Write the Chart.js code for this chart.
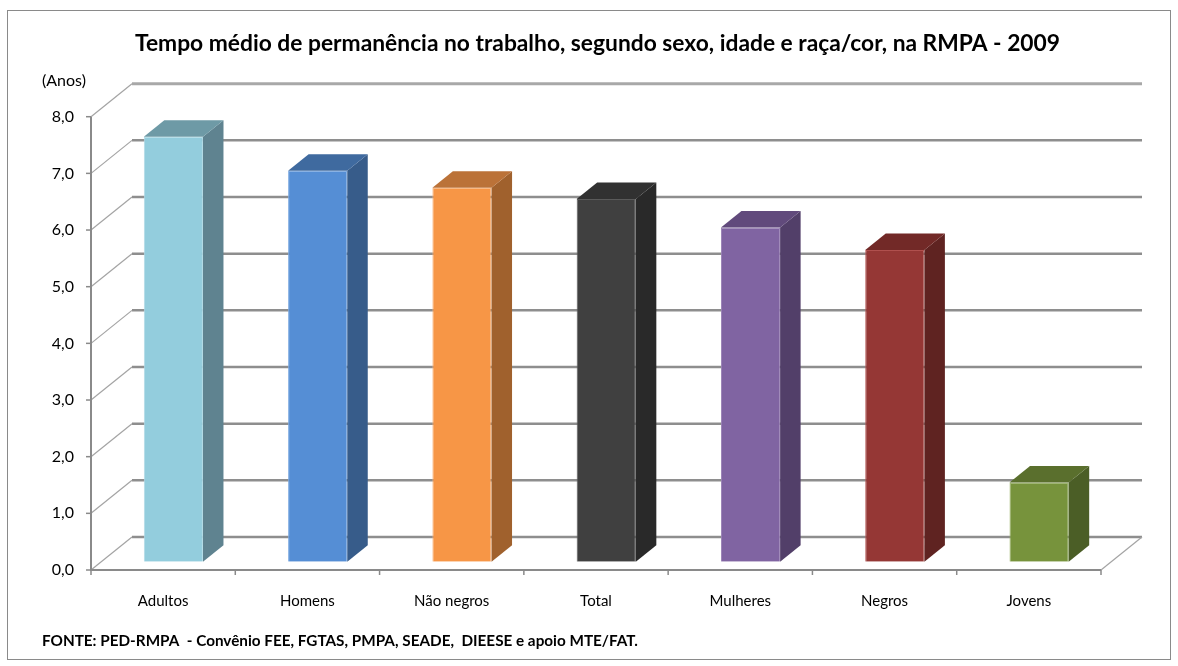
<!DOCTYPE html>
<html>
<head>
<meta charset="utf-8">
<script src="https://cdn.jsdelivr.net/npm/chart.js@4.4.1/dist/chart.umd.min.js"></script>
<style>
  html, body { margin: 0; padding: 0; background: #fff; }
  #wrap { width: 1178px; height: 666px; }
</style>
</head>
<body>
<div id="wrap"><canvas id="chart" width="1178" height="666"></canvas></div>
<script>
/* ================================
   Data
================================ */
const categories = ["Adultos", "Homens", "Não negros", "Total", "Mulheres", "Negros", "Jovens"];
const anos = [7.5, 6.9, 6.6, 6.4, 5.9, 5.5, 1.4];
const yTicks = [0, 1, 2, 3, 4, 5, 6, 7, 8];

const frontColors = ["#93cddd", "#558ed5", "#f79646", "#404040", "#8064a2", "#953735", "#77933c"];
const sideColors  = ["#5f8390", "#375c8a", "#a0612d", "#292929", "#523f69", "#5f2321", "#4b5e26"];
const topColors   = ["#6e9aa6", "#3f6a9f", "#bb7238", "#313131", "#614a7c", "#722927", "#5a6f2d"];
const edgeColors  = ["#b0dbe7", "#7ba8e0", "#f9b27a", "#5a5a5a", "#9a83b6", "#b0504e", "#93ad5c"];

const titleText = "Tempo médio de permanência no trabalho, segundo sexo, idade e raça/cor, na RMPA - 2009";
const unitText = "(Anos)";
const sourceText = "FONTE: PED-RMPA  - Convênio FEE, FGTAS, PMPA, SEADE,  DIEESE e apoio MTE/FAT.";

/* ================================
   3D look (Excel style walls)
================================ */
const DEPTH_X = 41;
const DEPTH_Y = 33;
const BAR_FRONT = 0.25;   // bars use the middle half of the depth
const BAR_DEPTH = 0.5;
const FONT = "Lato, 'Open Sans', 'DejaVu Sans', sans-serif";

// draw a line of text fitted to a given width (Calibri metrics differ from Lato)
function fittedText(ctx, text, font, x, y, width, align) {
  ctx.save();
  ctx.font = font;
  const sx = width / ctx.measureText(text).width;
  ctx.translate(x, y);
  ctx.scale(sx, 1);
  ctx.textAlign = align;
  ctx.fillText(text, 0, 0);
  ctx.restore();
}

function line(ctx, x1, y1, x2, y2) {
  ctx.beginPath();
  ctx.moveTo(x1, y1);
  ctx.lineTo(x2, y2);
  ctx.stroke();
}

const excel3d = {
  id: "excel3d",

  beforeDraw(chart) {
    const ctx = chart.ctx;
    ctx.save();
    ctx.fillStyle = "#fff";
    ctx.fillRect(0, 0, chart.width, chart.height);

    // outer frame
    ctx.strokeStyle = "#8a8a8a";
    ctx.lineWidth = 1;
    ctx.strokeRect(7.5, 10.5, 1163, 649);

    ctx.fillStyle = "#000";
    ctx.textBaseline = "alphabetic";

    fittedText(ctx, titleText, `bold 23px ${FONT}`, 597.5, 51, 925, "center");

    ctx.textAlign = "left";
    ctx.font = `16px ${FONT}`;
    ctx.fillText(unitText, 42, 86);

    fittedText(ctx, sourceText, `bold 14.5px ${FONT}`, 42, 646, 596, "left");
    ctx.restore();
  },

  beforeDatasetsDraw(chart) {
    const ctx = chart.ctx;
    const { left, right, bottom } = chart.chartArea;
    const y = chart.scales.y;

    ctx.save();
    ctx.lineCap = "butt";

    // back wall gridlines
    const topTick = yTicks[yTicks.length - 1];
    yTicks.forEach(v => {
      const py = y.getPixelForValue(v) - DEPTH_Y;
      ctx.strokeStyle = v === topTick ? "#a8a8a8" : "#8e8e8e";
      ctx.lineWidth = v === topTick ? 3 : 2.5;
      line(ctx, left + DEPTH_X, py, right + DEPTH_X, py);
    });

    // side wall diagonals
    ctx.strokeStyle = "#a4a4a4";
    ctx.lineWidth = 1.2;
    yTicks.forEach(v => {
      const py = y.getPixelForValue(v);
      line(ctx, left, py, left + DEPTH_X, py - DEPTH_Y);
    });
    // right floor edge
    line(ctx, right, bottom, right + DEPTH_X, bottom - DEPTH_Y);

    // front axes
    ctx.strokeStyle = "#8a8a8a";
    ctx.lineWidth = 2;
    line(ctx, left, y.getPixelForValue(topTick), left, bottom + 1);
    line(ctx, left - 1, bottom, right, bottom);

    ctx.lineWidth = 1.5;
    yTicks.forEach(v => {
      const py = y.getPixelForValue(v);
      line(ctx, left - 5, py, left, py);
    });
    const step = (right - left) / categories.length;
    for (let i = 0; i <= categories.length; i++) {
      const px = left + step * i;
      line(ctx, px, bottom, px, bottom + 5);
    }
    ctx.restore();

    // bars are pushed a quarter of the way into the depth
    ctx.save();
    ctx.translate(DEPTH_X * BAR_FRONT, -DEPTH_Y * BAR_FRONT);
  },

  afterDatasetsDraw(chart) {
    const ctx = chart.ctx;
    const dx = DEPTH_X * BAR_DEPTH;
    const dy = DEPTH_Y * BAR_DEPTH;
    const meta = chart.getDatasetMeta(0);

    meta.data.forEach((bar, i) => {
      const { x, y, base, width } = bar.getProps(["x", "y", "base", "width"], true);
      const l = x - width / 2;
      const r = x + width / 2;

      // side face
      ctx.fillStyle = sideColors[i];
      ctx.beginPath();
      ctx.moveTo(r, y);
      ctx.lineTo(r + dx, y - dy);
      ctx.lineTo(r + dx, base - dy);
      ctx.lineTo(r, base);
      ctx.closePath();
      ctx.fill();

      // top face
      ctx.fillStyle = topColors[i];
      ctx.beginPath();
      ctx.moveTo(l, y);
      ctx.lineTo(l + dx, y - dy);
      ctx.lineTo(r + dx, y - dy);
      ctx.lineTo(r, y);
      ctx.closePath();
      ctx.fill();
    });

    ctx.restore();
  }
};

/* ================================
   Chart
================================ */
new Chart(document.getElementById("chart"), {
  type: "bar",
  data: {
    labels: categories,
    datasets: [
      {
        data: anos,
        backgroundColor: frontColors,
        borderColor: edgeColors,
        borderWidth: 1,
        categoryPercentage: 1,
        barPercentage: 0.41
      }
    ]
  },
  options: {
    responsive: false,
    devicePixelRatio: 1,
    animation: false,
    events: [],
    layout: {
      padding: { left: 31, right: 77, top: 116.7, bottom: 46 }
    },
    plugins: {
      legend: { display: false },
      tooltip: { enabled: false },
      title: { display: false }
    },
    scales: {
      x: {
        grid: { display: false, drawTicks: false },
        border: { display: false },
        ticks: {
          color: "#000",
          font: { family: FONT, size: 15 },
          padding: 22,
          maxRotation: 0
        },
        afterFit: scale => { scale.height = 50; }
      },
      y: {
        min: 0,
        max: 8,
        grid: { display: false, drawTicks: false },
        border: { display: false },
        ticks: {
          stepSize: 1,
          color: "#000",
          font: { family: FONT, size: 16 },
          padding: 17,
          callback: v => v.toFixed(1).replace(".", ",")
        },
        afterFit: scale => { scale.width = 60; }
      }
    }
  },
  plugins: [excel3d]
});
</script>
</body>
</html>
